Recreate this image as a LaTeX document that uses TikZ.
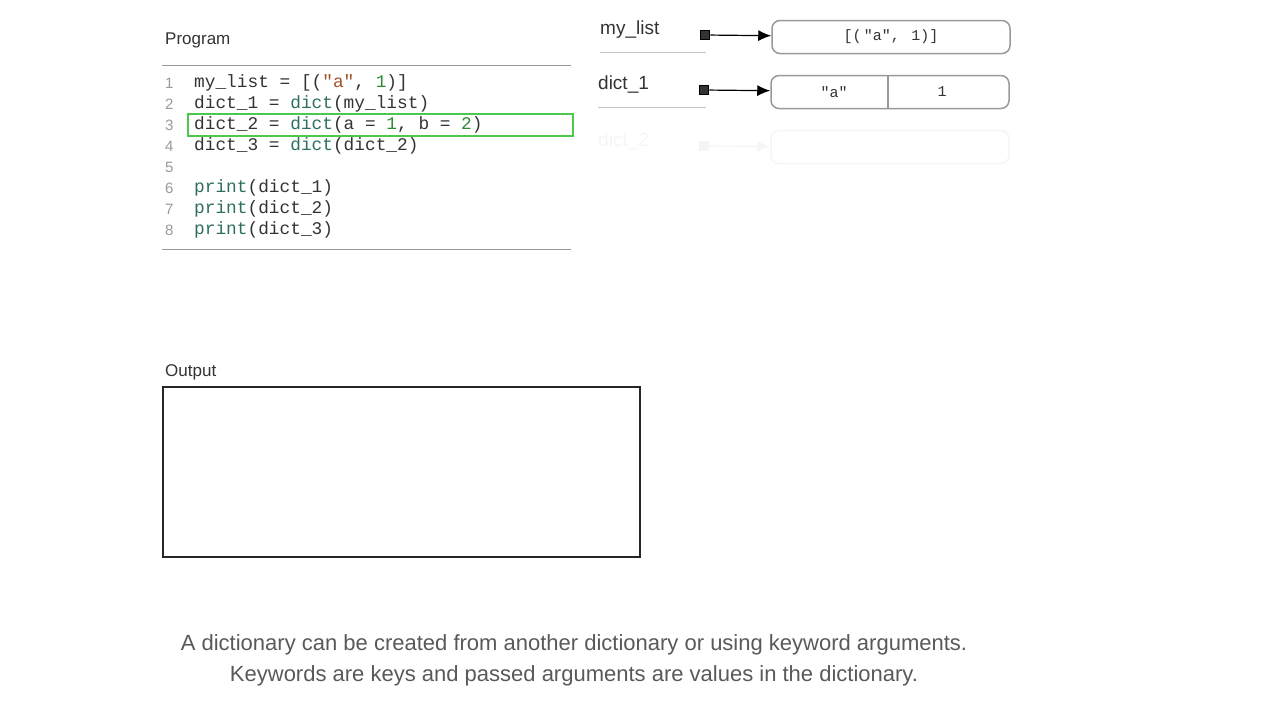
\documentclass[tikz,border=0pt]{standalone}
\usepackage{fontspec}
\setmainfont{Liberation Sans}
\setmonofont{Liberation Mono}
\usetikzlibrary{positioning,arrows.meta}
\definecolor{codegray}{HTML}{333333}
\definecolor{numgray}{HTML}{999999}
\definecolor{fngreen}{HTML}{2E6E60}
\definecolor{strred}{HTML}{A0522D}
\definecolor{litgreen}{HTML}{2E8B2E}
\definecolor{boxgreen}{HTML}{4CC94C}
\newcommand{\fn}[1]{\textcolor{fngreen}{#1}}
\newcommand{\str}[1]{\textcolor{strred}{#1}}
\newcommand{\lit}[1]{\textcolor{litgreen}{#1}}
\tikzset{
  codeline/.style={anchor=west, inner sep=0pt, font=\fontsize{17.8}{20}\selectfont\ttfamily, text=codegray},
  lineno/.style={anchor=west, inner sep=0pt, font=\fontsize{15}{18}\selectfont, text=numgray},
  varname/.style={anchor=west, inner sep=0pt, font=\fontsize{19}{22}\selectfont, text=codegray},
  cell/.style={draw=numgray, line width=1.5pt, rounded corners=8pt, minimum height=33pt, inner sep=0pt, font=\fontsize{15}{18}\selectfont\ttfamily, text=codegray},
  ptr/.style={draw=black, fill=black!80, minimum size=9pt, inner sep=0pt, line width=1.5pt},
  link/.style={-{Latex[length=13pt,width=11pt]}, line width=1.2pt},
}
\begin{document}
\begin{tikzpicture}[x=1pt,y=-1pt]
\useasboundingbox (0,0) rectangle (1280,720);
% program
\node[varname, font=\fontsize{17}{20}\selectfont] (prog) at (165,40) {Program};
\draw[numgray, line width=1pt] (162,65) -- (571,65);
\draw[numgray, line width=1pt] (162,249) -- (571,249);
\node[lineno] (n1) at (165,83) {1};
\node[lineno] (n2) at (165,104) {2};
\node[lineno] (n3) at (165,125) {3};
\node[lineno] (n4) at (165,146) {4};
\node[lineno] (n5) at (165,167) {5};
\node[lineno] (n6) at (165,188) {6};
\node[lineno] (n7) at (165,209) {7};
\node[lineno] (n8) at (165,230) {8};
\node[codeline] (c1) at (194,83) {my\_list = [(\str{"a"}, \lit{1})]};
\node[codeline] (c2) at (194,104) {dict\_1 = \fn{dict}(my\_list)};
\node[codeline] (c3) at (194,125) {dict\_2 = \fn{dict}(a = \lit{1}, b = \lit{2})};
\node[codeline] (c4) at (194,146) {dict\_3 = \fn{dict}(dict\_2)};
\node[codeline] (c6) at (194,188) {\fn{print}(dict\_1)};
\node[codeline] (c7) at (194,209) {\fn{print}(dict\_2)};
\node[codeline] (c8) at (194,230) {\fn{print}(dict\_3)};
\draw[boxgreen, line width=2.5pt] (188,114) rectangle (573,136);
% memory
\node[varname] (vlist) at (600,30) {my\_list};
\draw[numgray!60, line width=1pt] (600,52) -- (706,52);
\node[ptr] (plist) at (705,35) {};
\node[cell, minimum width=238pt] (blist) at (891,37) {[(\,"a",\, 1)]};
\draw[link] (plist) -- (blist);
\node[varname] (vd1) at (598,85) {dict\_1};
\draw[numgray!60, line width=1pt] (598,107) -- (706,107);
\node[ptr] (pd1) at (704,90) {};
\node[cell, minimum width=238pt] (bd1) at (890,92) {};
\draw[numgray, line width=1.5pt] (888,76) -- (888,108);
\node[font=\fontsize{15}{18}\selectfont\ttfamily, text=codegray] (ka) at (834,92) {"a"};
\node[font=\fontsize{15}{18}\selectfont\ttfamily, text=codegray] (va) at (942,92) {1};
\draw[link] (pd1) -- (bd1);
% faded row
\node[varname, text=black!4] (vd2) at (598,142) {dict\_2};
\node[ptr, draw=black!4, fill=black!4] (pd2) at (704,146) {};
\node[cell, draw=black!4, minimum width=238pt] (bd2) at (890,147) {};
\draw[link, black!4] (pd2) -- (bd2);
% output
\node[varname, font=\fontsize{17}{20}\selectfont] (outl) at (165,372) {Output};
\draw[black!85, line width=2pt] (163,387) rectangle (640,557);
% caption
\node[text=black!65, font=\fontsize{22}{31}\selectfont, align=center] (cap) at (574,660)
  {A dictionary can be created from another dictionary or using keyword arguments.\\
   Keywords are keys and passed arguments are values in the dictionary.};
\end{tikzpicture}
\end{document}
